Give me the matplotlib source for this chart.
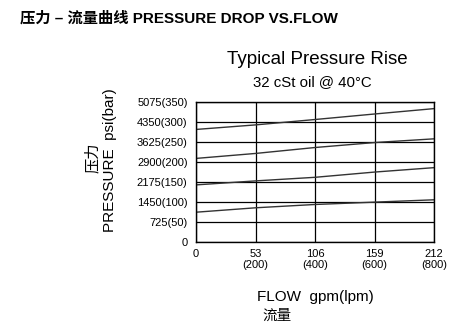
import matplotlib
matplotlib.use("Agg")
import matplotlib.pyplot as plt

plt.rcParams['font.family'] = ['Liberation Sans', 'Noto Sans CJK SC', 'DejaVu Sans']

# flow in gpm, pressure in psi
flow_gpm = [0, 53, 106, 159, 212]
curve_1 = [4080, 4245, 4440, 4640, 4835]
curve_2 = [3030, 3210, 3425, 3605, 3740]
curve_3 = [2070, 2215, 2345, 2535, 2695]
curve_4 = [1080, 1240, 1360, 1445, 1530]

y_ticks = [0, 725, 1450, 2175, 2900, 3625, 4350, 5075]
y_labels = ["0", "725(50)", "1450(100)", "2175(150)", "2900(200)",
            "3625(250)", "4350(300)", "5075(350)"]
x_labels = ["0", "53\n(200)", "106\n(400)", "159\n(600)", "212\n(800)"]

W, H = 475, 334
fig = plt.figure(figsize=(W / 100, H / 100), dpi=100)
ax = fig.add_axes([196 / W, 1 - 242 / H, (434 - 196) / W, (242 - 102) / H])

for c in [curve_1, curve_2, curve_3, curve_4]:
    ax.plot(flow_gpm, c, color="#333333", lw=1.0)

ax.set_xlim(0, 212)
ax.set_ylim(0, 5075)
ax.set_xticks(flow_gpm)
ax.set_xticklabels(x_labels, fontsize=8, va="top", linespacing=1.1)
ax.set_yticks(y_ticks)
ax.set_yticklabels(y_labels, fontsize=8)
ax.tick_params(length=0, pad=6)
ax.tick_params(axis="x", pad=5)
ax.grid(True, color="black", lw=0.9)
for s in ax.spines.values():
    s.set_linewidth(1.0)

fig.text(20 / W, 1 - 18 / H, "压力 – 流量曲线 PRESSURE DROP VS.FLOW",
         fontsize=11, fontweight="bold", va="center", ha="left")
fig.text(317 / W, 1 - 60 / H, "Typical Pressure Rise", fontsize=13.5,
         ha="center", va="center")
fig.text(312 / W, 1 - 82 / H, "32 cSt oil @ 40°C", fontsize=10.8,
         ha="center", va="center")
fig.text(92 / W, 1 - 158 / H, "压力", fontsize=11, rotation=90,
         ha="center", va="center", family=['Noto Sans CJK SC', 'DejaVu Sans'])
fig.text(110 / W, 1 - 160 / H, "PRESSURE  psi(bar)", fontsize=11, rotation=90,
         ha="center", va="center")
fig.text(315 / W, 1 - 297 / H, "FLOW  gpm(lpm)", fontsize=11,
         ha="center", va="center")
fig.text(262 / W, 1 - 316 / H, "流量", fontsize=10.5, ha="left", va="center",
         family=['Noto Sans CJK SC', 'DejaVu Sans'])

fig.savefig("out.png", dpi=100)
